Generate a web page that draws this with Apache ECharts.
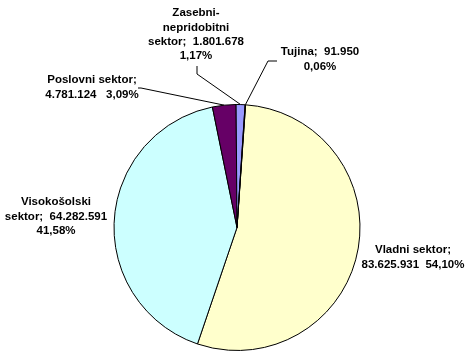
<!DOCTYPE html>
<html>
<head>
<meta charset="utf-8">
<script src="https://cdn.jsdelivr.net/npm/echarts@6/dist/echarts.min.js"></script>
<style>
html,body{margin:0;padding:0;background:#fff;}
#c{width:466px;height:361px;}
</style>
</head>
<body>
<div id="c"></div>
<script>
// Data
var categories = ["Vladni sektor", "Visokošolski sektor", "Poslovni sektor", "Zasebni-nepridobitni sektor", "Tujina"];
var values = [83625931, 64282591, 4781124, 1801678, 91950];
var colors = ["#FFFFCC", "#CCFFFF", "#660066", "#9999FF", "#FF8080"];
// label text line breaks (display only)
var labelNames = ["Vladni sektor", "Visokošolski\nsektor", "Poslovni sektor", "Zasebni-\nnepridobitni\nsektor", "Tujina"];
var sep1 = [";\n", ";  ", ";\n", ";  ", ";  "];
var sep2 = ["  ", "\n", "   ", "\n", "\n"];

// label placement (block center x, top y, leader turn points)
var labelPos = [
  {x: 413, y: 243, line: null},
  {x: 56, y: 195, line: null},
  {x: 92, y: 73, line: [[141, 88], [138, 88]]},
  {x: 196, y: 6, line: [[197, 74], [197, 66]]},
  {x: 320, y: 45, line: [[268, 61], [277, 61]]}
];

var total = values.reduce(function(a, b){ return a + b; }, 0);
function fmtNum(v){ return String(v).replace(/\B(?=(\d{3})+(?!\d))/g, "."); }
function fmtPct(v){ return (v / total * 100).toFixed(2).replace(".", ",") + "%"; }

var cx = 237, cy = 227.5, R = 123;

var data = categories.map(function(c, i){
  return {
    name: c,
    value: values[i],
    itemStyle: {color: colors[i]},
    labelLine: {show: !!labelPos[i].line}
  };
});

var chart = echarts.init(document.getElementById('c'), null, {renderer: 'canvas'});
chart.setOption({
  animation: false,
  backgroundColor: '#ffffff',
  series: [{
    type: 'pie',
    center: [cx, cy],
    radius: R,
    startAngle: 86,
    clockwise: true,
    avoidLabelOverlap: false,
    itemStyle: {borderColor: '#000', borderWidth: 1},
    emphasis: {disabled: true},
    label: {
      show: true,
      position: 'outside',
      color: '#000',
      fontFamily: 'Liberation Sans, Arial, sans-serif',
      fontWeight: 'bold',
      fontSize: 11.5,
      lineHeight: 14.3,
      align: 'center',
      formatter: function(p){
        var i = p.dataIndex;
        return labelNames[i] + sep1[i] + fmtNum(values[i]) + sep2[i] + fmtPct(values[i]);
      }
    },
    labelLine: {lineStyle: {color: '#000', width: 1}, smooth: false},
    labelLayout: function(params){
      var i = params.dataIndex;
      var lp = labelPos[i];
      var res = {x: lp.x, y: lp.y, align: 'center', verticalAlign: 'top'};
      if (lp.line) {
        var start = params.labelLinePoints && params.labelLinePoints[0];
        if (!start) start = [cx, cy - R];
        res.labelLinePoints = [start, lp.line[0], lp.line[1]];
      }
      return res;
    },
    data: data
  }]
});
</script>
</body>
</html>
